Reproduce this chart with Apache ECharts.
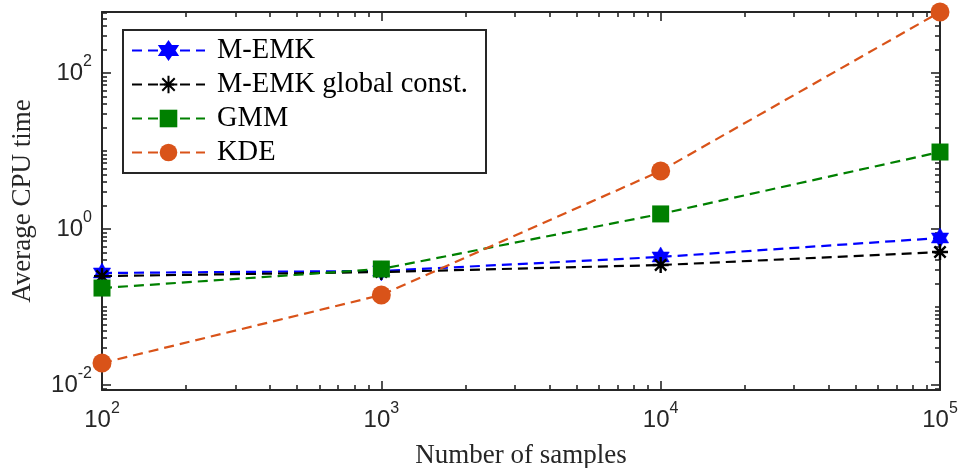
<!DOCTYPE html>
<html>
<head>
<meta charset="utf-8">
<script src="https://cdn.jsdelivr.net/npm/echarts@6/dist/echarts.min.js"></script>
<style>
  html, body { margin: 0; padding: 0; background: #fff; }
  #chart { width: 962px; height: 468px; }
</style>
</head>
<body>
<div id="chart"></div>
<script>
// values (log-log)
var samples = [100, 1000, 10000, 100000];
var memk = [0.273, 0.29, 0.438, 0.767];
var memkGlobal = [0.249, 0.281, 0.345, 0.507];
var gmm = [0.175, 0.307, 1.56, 9.7];
var kde = [0.0191, 0.1426, 5.55, 605];

var seriesNames = ['M-EMK', 'M-EMK global const.', 'GMM', 'KDE'];

// labelled decades
var xTickExps = [2, 3, 4, 5];
var yTickExps = [-2, 0, 2];
var xRange = [100, 100000];
var yRange = [0.00863, 605];

var axisColor = '#262626';

var xExp = [Math.log10(xRange[0]), Math.log10(xRange[1])];
var yExp = [Math.log10(yRange[0]), Math.log10(yRange[1])];

// minor ticks at 1..9 x 10^k, skipping the labelled decades
function minorTicks(lo, hi, majors) {
  var out = [];
  for (var k = Math.floor(lo) - 1; k <= Math.ceil(hi); k++) {
    for (var m = 1; m <= 9; m++) {
      if (m === 1 && majors.indexOf(k) >= 0) continue;
      var v = k + Math.log10(m);
      if (v > lo + 1e-9 && v < hi - 1e-9) out.push(v);
    }
  }
  return out;
}

function hexagram() {
  var pts = [];
  for (var i = 0; i < 12; i++) {
    var r = i % 2 === 0 ? 10 : 10 / Math.sqrt(3);
    var a = (-90 + i * 30) * Math.PI / 180;
    pts.push((r * Math.cos(a) + 10).toFixed(2) + ',' + (r * Math.sin(a) + 10).toFixed(2));
  }
  return 'path://M' + pts.join('L') + 'Z';
}
var asterisk = 'path://M10,0L10,20M0,10L20,10M2.93,2.93L17.07,17.07M17.07,2.93L2.93,17.07';

function powLabel(allowed) {
  return function (val) {
    var l = Math.log10(val);
    var e = Math.round(l);
    if (Math.abs(l - e) > 1e-6 || allowed.indexOf(e) < 0) return '';
    return '{b|10}{s|' + e + '}';
  };
}

var labelRich = {
  b: { fontFamily: 'Liberation Sans', fontSize: 24, color: axisColor, lineHeight: 38 },
  s: { fontFamily: 'Liberation Sans', fontSize: 16, color: axisColor, lineHeight: 16, verticalAlign: 'top' }
};

var nameStyle = { fontFamily: 'Liberation Serif', fontSize: 27, color: axisColor };

function tickAxis(min, max, position, values, len, showLine) {
  return {
    type: 'value',
    min: min,
    max: max,
    position: position,
    axisLine: { show: showLine, onZero: false, lineStyle: { color: axisColor, width: 2 } },
    axisTick: { show: true, inside: true, length: len, customValues: values,
      lineStyle: { color: axisColor, width: 1.6 } },
    axisLabel: { show: false },
    splitLine: { show: false }
  };
}

var xMinor = minorTicks(xExp[0], xExp[1], xTickExps);
var yMinor = minorTicks(yExp[0], yExp[1], yTickExps);

function pairs(vals) {
  return samples.map(function (x, i) { return [x, vals[i]]; });
}

function lineSeries(name, vals, color, symbol, size, itemStyle) {
  return {
    name: name,
    type: 'line',
    xAxisIndex: 0,
    yAxisIndex: 0,
    data: pairs(vals),
    symbol: symbol,
    symbolSize: size,
    symbolKeepAspect: true,
    clip: false,
    lineStyle: { color: color, width: 2.2, type: [10, 6] },
    itemStyle: itemStyle
  };
}

var myChart = echarts.init(document.getElementById('chart'));

var option = {
  animation: false,
  backgroundColor: '#fff',
  grid: { left: 102, right: 22, top: 12, bottom: 78, containLabel: false, outerBoundsMode: 'none' },
  legend: {
    orient: 'vertical',
    left: 123,
    top: 30,
    padding: [6, 10, 6, 8],
    itemWidth: 73,
    itemHeight: 22,
    itemGap: 5,
    backgroundColor: '#fff',
    borderColor: axisColor,
    borderWidth: 2,
    borderRadius: 0,
    textStyle: { fontFamily: 'Liberation Serif', fontSize: 28.5, color: '#000', lineHeight: 22,
      width: 259, padding: [0, 0, 0, 7] },
    data: seriesNames
  },
  xAxis: [
    {
      type: 'log', logBase: 10, min: xRange[0], max: xRange[1], position: 'bottom',
      axisLine: { show: false }, axisTick: { show: false }, splitLine: { show: false },
      axisLabel: { interval: 0, showMinLabel: true, showMaxLabel: true, hideOverlap: false,
        margin: 11, formatter: powLabel(xTickExps), rich: labelRich },
      name: 'Number of samples', nameLocation: 'middle', nameGap: 52, nameTextStyle: nameStyle
    },
    tickAxis(xExp[0], xExp[1], 'bottom', xTickExps, 9, true),
    tickAxis(xExp[0], xExp[1], 'bottom', xMinor, 5, false),
    tickAxis(xExp[0], xExp[1], 'top', xTickExps, 9, true),
    tickAxis(xExp[0], xExp[1], 'top', xMinor, 5, false)
  ],
  yAxis: [
    {
      type: 'log', logBase: 10, min: yRange[0], max: yRange[1], position: 'left',
      axisLine: { show: false }, axisTick: { show: false }, splitLine: { show: false },
      axisLabel: { interval: 0, showMinLabel: true, showMaxLabel: true, hideOverlap: false,
        margin: 10, formatter: powLabel(yTickExps), rich: labelRich },
      name: 'Average CPU time', nameLocation: 'middle', nameGap: 66, nameTextStyle: nameStyle
    },
    tickAxis(yExp[0], yExp[1], 'left', yTickExps, 9, true),
    tickAxis(yExp[0], yExp[1], 'left', yMinor, 5, false),
    tickAxis(yExp[0], yExp[1], 'right', yTickExps, 9, true),
    tickAxis(yExp[0], yExp[1], 'right', yMinor, 5, false)
  ],
  series: [
    lineSeries(seriesNames[0], memk, '#0000ff', hexagram(), 20,
      { color: '#0000ff', borderColor: '#0000ff', borderWidth: 0.5 }),
    lineSeries(seriesNames[1], memkGlobal, '#000000', asterisk, 16,
      { color: '#000000', borderColor: '#000000', borderWidth: 2.4 }),
    lineSeries(seriesNames[2], gmm, '#008000', 'rect', 17,
      { color: '#008000', borderWidth: 0 }),
    lineSeries(seriesNames[3], kde, '#D95319', 'circle', 19,
      { color: '#D95319', borderWidth: 0 })
  ]
};

myChart.setOption(option);
</script>
</body>
</html>
